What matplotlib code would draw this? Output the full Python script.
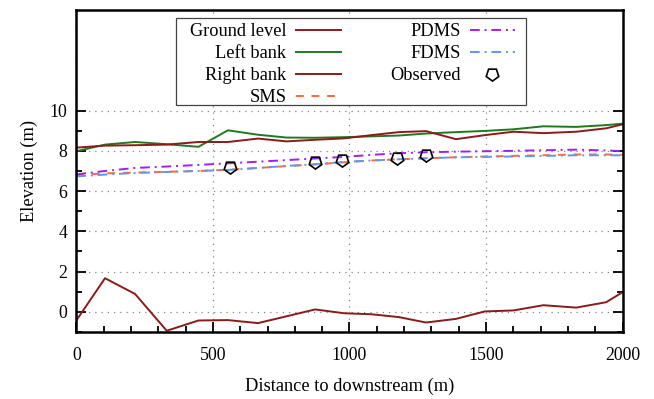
import matplotlib
matplotlib.use("Agg")
import matplotlib.pyplot as plt
from matplotlib.patches import Rectangle
import numpy as np

plt.rcParams["font.family"] = ["Liberation Serif", "DejaVu Serif"]
plt.rcParams["font.size"] = 13.2

# stations along the reach (m)
dist = [0, 105, 215, 331, 447, 555, 665, 770, 874, 980,
        1080, 1180, 1280, 1390, 1495, 1600, 1710, 1830, 1940, 2000]

ground = [-0.43, 1.67, 0.89, -0.94, -0.43, -0.41, -0.56, -0.22, 0.12, -0.07,
          -0.12, -0.26, -0.53, -0.35, 0.02, 0.07, 0.33, 0.21, 0.48, 0.98]
left_bank = [7.98, 8.31, 8.44, 8.33, 8.20, 9.02, 8.80, 8.66, 8.65, 8.68,
             8.72, 8.76, 8.86, 8.93, 8.99, 9.07, 9.22, 9.19, 9.28, 9.35]
right_bank = [8.16, 8.26, 8.28, 8.31, 8.44, 8.44, 8.61, 8.47, 8.55, 8.62,
              8.78, 8.93, 8.98, 8.58, 8.78, 8.95, 8.88, 8.95, 9.12, 9.32]
sms = [6.79, 6.88, 6.92, 6.96, 7.00, 7.06, 7.15, 7.24, 7.33, 7.43,
       7.52, 7.58, 7.63, 7.68, 7.72, 7.75, 7.78, 7.82, 7.82, 7.80]
pdms = [6.83, 7.00, 7.15, 7.22, 7.30, 7.38, 7.46, 7.54, 7.62, 7.70,
        7.80, 7.88, 7.93, 7.96, 7.98, 8.00, 8.03, 8.06, 8.02, 7.98]
fdms = [6.73, 6.82, 6.90, 6.95, 7.00, 7.05, 7.15, 7.25, 7.33, 7.45,
        7.52, 7.58, 7.63, 7.68, 7.70, 7.72, 7.75, 7.78, 7.78, 7.78]

obs_x = [561, 874, 971, 1173, 1279]
obs_y = [7.20, 7.45, 7.57, 7.62, 7.78]

fig = plt.figure(figsize=(6.54, 3.99), dpi=100)
ax = fig.add_axes([0.1167, 0.168, 0.8354, 0.807])

lw = 1.4
ax.plot(dist, ground, color="#8b1a1a", lw=lw, label="Ground level")
ax.plot(dist, left_bank, color="#1f7a1f", lw=lw, label="Left bank")
ax.plot(dist, right_bank, color="#8b1a1a", lw=lw, label="Right bank")
ax.plot(dist, sms, color="#ff6a2a", lw=lw, ls=(0, (4, 4)), label="SMS")
ax.plot(dist, pdms, color="#a020f0", lw=lw, ls=(0, (5, 2.5, 1, 2.5)), label="PDMS")
ax.plot(dist, fdms, color="#6495ed", lw=lw, ls=(0, (5, 2.5, 1, 2.5)), label="FDMS")
ax.plot(obs_x, obs_y, ls="none", marker=(5, 0, 180), ms=9.5, mfc="none",
        mec="black", mew=1.2, label="Observed")

ax.set_xlim(0, 2000)
ax.set_ylim(-1, 15)
ax.set_xticks([0, 500, 1000, 1500, 2000])
ax.set_xticks(np.arange(0, 2001, 100), minor=True)
ax.set_yticks([0, 2, 4, 6, 8, 10])
ax.set_yticks([-1, 1, 3, 5, 7, 9], minor=True)
ax.tick_params(which="both", direction="in", right=True, width=1.3)
ax.tick_params(which="major", length=7, labelsize=12.8)
ax.tick_params(which="minor", length=4)
ax.tick_params(axis="x", which="major", pad=11)
ax.tick_params(axis="y", which="major", pad=6.5)
for s in ax.spines.values():
    s.set_linewidth(1.8)

ax.grid(True, which="major", color="#888888", lw=0.9, ls=(0, (1, 4)))

ax.set_xlabel("Distance to downstream (m)", labelpad=10)
ax.set_ylabel("Elevation (m)", labelpad=8)

# gnuplot-style key box: wider side padding than matplotlib's frame allows
ax.add_patch(Rectangle((0.1825, 0.705), 0.6405, 0.27, transform=ax.transAxes,
                       facecolor="white", edgecolor="#444444", lw=0.9,
                       zorder=4.5))
leg = ax.legend(ncol=2, markerfirst=False, loc="upper left",
                bbox_to_anchor=(0.2013, 0.971), borderaxespad=0,
                frameon=False, handlelength=2.45, labelspacing=0.28,
                columnspacing=2.7, borderpad=0.2, handletextpad=0.5)
leg.set_zorder(5)

fig.savefig("out.png", dpi=100)
